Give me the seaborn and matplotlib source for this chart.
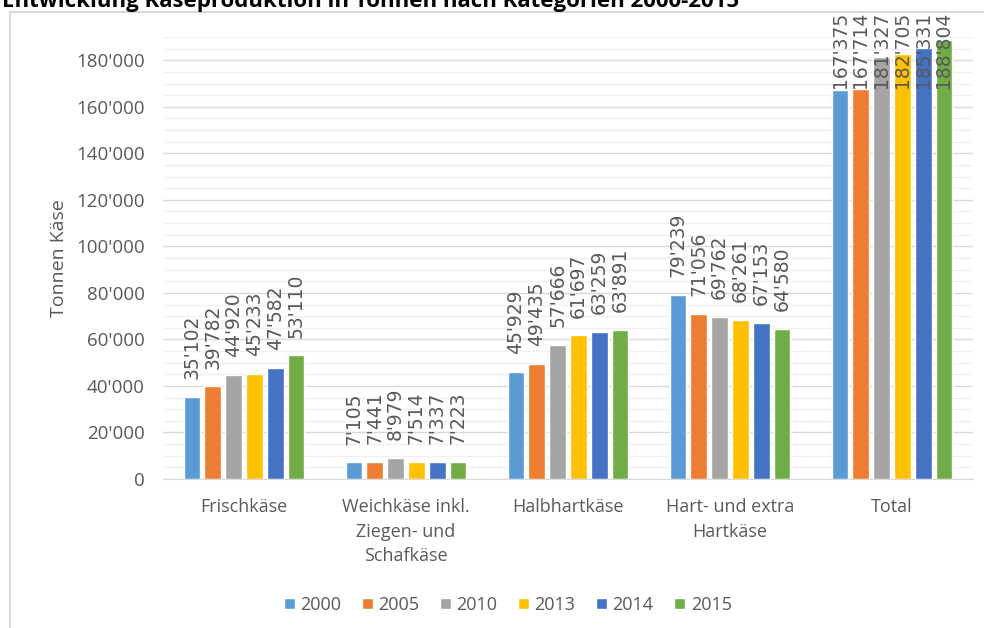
import numpy as np
import pandas as pd
import matplotlib
matplotlib.use('Agg')
import matplotlib.pyplot as plt
import seaborn as sns
from matplotlib.lines import Line2D
from matplotlib.patches import Patch
from matplotlib.ticker import MultipleLocator, FuncFormatter

# --- data ---
categories = ['Frischkäse', 'Weichkäse inkl.\nZiegen- und\nSchafkäse', 'Halbhartkäse',
              'Hart- und extra\nHartkäse', 'Total']
years = ['2000', '2005', '2010', '2013', '2014', '2015']
y2000 = [35102, 7105, 45929, 79239, 167375]
y2005 = [39782, 7441, 49435, 71056, 167714]
y2010 = [44920, 8979, 57666, 69762, 181327]
y2013 = [45233, 7514, 61697, 68261, 182705]
y2014 = [47582, 7337, 63259, 67153, 185331]
y2015 = [53110, 7223, 63891, 64580, 188804]
colors = ['#5B9BD5', '#ED7D31', '#A5A5A5', '#FFC000', '#4472C4', '#70AD47']

series = [y2000, y2005, y2010, y2013, y2014, y2015]
df = pd.DataFrame({
    'Kategorie': categories * len(years),
    'Jahr': np.repeat(years, len(categories)),
    'Tonnen': np.concatenate(series),
})

sns.set_style('white')
plt.rcParams['font.family'] = ['Open Sans', 'DejaVu Sans']
grey = '#595959'


def swiss(v):
    return f"{int(v):,}".replace(',', "'")


fig = plt.figure(figsize=(9.84, 6.28), dpi=100)
ax = fig.add_axes([163 / 984, 1 - 479 / 628, 810 / 984, 442 / 628])

sns.barplot(data=df, x='Kategorie', y='Tonnen', hue='Jahr', palette=colors,
            width=0.77, gap=0.2, saturation=1, ax=ax, legend=False)

ax.set_ylim(0, 190000)
ax.yaxis.set_major_locator(MultipleLocator(20000))
ax.yaxis.set_minor_locator(MultipleLocator(5000))
ax.yaxis.set_major_formatter(FuncFormatter(lambda v, p: swiss(v)))
ax.grid(which='major', axis='y', color='#D9D9D9', lw=1)
ax.grid(which='minor', axis='y', color='#F0F0F0', lw=1)
ax.set_axisbelow(True)
for s in ['top', 'right', 'left']:
    ax.spines[s].set_visible(False)
ax.spines['bottom'].set_color('#D9D9D9')
ax.tick_params(axis='y', which='both', length=0, pad=13, labelsize=13.5, labelcolor=grey)
ax.tick_params(axis='x', length=0, pad=14, labelsize=13, labelcolor=grey)
for t in ax.get_xticklabels():
    t.set_linespacing(1.45)
ax.set_xlabel('')
ax.set_ylabel('Tonnen Käse', fontsize=14, color=grey, labelpad=6)

# value labels, rotated; the Total ones get pushed down to stay inside the chart
for cont, vals in zip(ax.containers, series):
    for bar, v in zip(cont, vals):
        ypos = min(v + 7700, 168000)
        ax.text(bar.get_x() + bar.get_width() / 2, ypos, swiss(v), rotation=90,
                ha='center', va='bottom', fontsize=13.5, color=grey,
                family='DejaVu Sans', clip_on=False)

handles = [Patch(facecolor=c, label=y) for c, y in zip(colors, years)]
fig.legend(handles=handles, loc='center', bbox_to_anchor=(508 / 984, 1 - 605 / 628),
           ncol=6, frameon=False, fontsize=13, labelcolor=grey,
           handlelength=0.6, handleheight=0.6, handletextpad=0.3, columnspacing=1.15)

# title: sits partly above the top edge, as in the reference
fig.text(2 / 984, 1 - 7 / 628, 'Entwicklung Käseproduktion in Tonnen nach Kategorien 2000-2015',
         fontsize=16, fontweight='bold', color='black', va='baseline', ha='left')

# light grey chart frame (left and top edge visible)
fig.add_artist(Line2D([10 / 984, 10 / 984], [-0.1, 1 - 12 / 628], color='#D9D9D9', lw=1.5,
                      transform=fig.transFigure))
fig.add_artist(Line2D([10 / 984, 1.1], [1 - 12 / 628, 1 - 12 / 628], color='#D9D9D9', lw=1.5,
                      transform=fig.transFigure))

fig.savefig('out.png', dpi=100)
